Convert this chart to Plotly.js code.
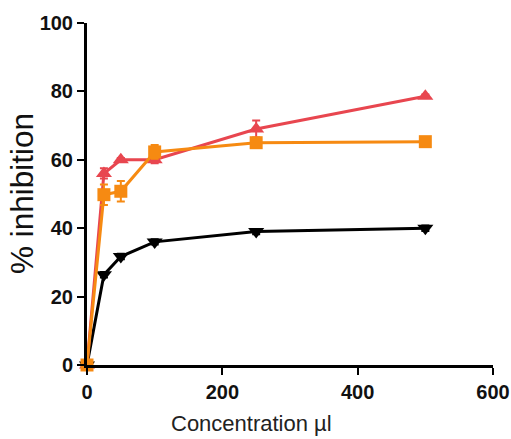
<!DOCTYPE html>
<html><head><meta charset="utf-8">
<script src="https://cdn.plot.ly/plotly-3.0.1.min.js"></script>
<style>html,body{margin:0;padding:0;background:#fff}#chart{width:511px;height:439px}</style>
</head><body><div id="chart"></div>
<script>
const conc = [0, 25, 50, 100, 250, 500];
const blackVals = [0, 26.4, 31.7, 36, 39, 40];
const blackErr = [0, 0.8, 0.8, 0.8, 0.8, 0.8];
const redVals = [0, 56, 60, 60, 69, 78.6];
const redErr = [0, 1.5, 0.5, 1, 2.5, 0.5];
const orangeVals = [0, 49.8, 50.8, 62.3, 65, 65.3];
const orangeErr = [0, 3, 3, 2, 1, 1];
const xTicks = [0, 200, 400, 600];
const yTicks = [0, 20, 40, 60, 80, 100];
const xTitle = 'Concentration µl';
const yTitle = '% inhibition';

const FONT = 'Liberation Sans Narrow, Liberation Sans, Arial, sans-serif';

const black = {x: conc, y: blackVals, mode: 'lines+markers', type: 'scatter', cliponaxis: false,
  line: {color: '#000', width: 3},
  marker: {symbol: 'triangle-down', size: 14, color: '#000'},
  error_y: {type: 'data', array: blackErr, color: '#000', thickness: 2, width: 4}};
const red = {x: conc, y: redVals, mode: 'lines+markers', type: 'scatter', cliponaxis: false,
  line: {color: '#e8464f', width: 3},
  marker: {symbol: 'triangle-up', size: 14, color: '#e8464f'},
  error_y: {type: 'data', array: redErr, color: '#e8464f', thickness: 2, width: 4}};
const orange = {x: conc, y: orangeVals, mode: 'lines+markers', type: 'scatter', cliponaxis: false,
  line: {color: '#f68a12', width: 3},
  marker: {symbol: 'square', size: 13, color: '#f68a12'},
  error_y: {type: 'data', array: orangeErr, color: '#f68a12', thickness: 2, width: 4}};

const axisCommon = {showgrid: false, zeroline: false, showline: true, linecolor: '#000', linewidth: 3,
  ticks: 'outside', ticklen: 7, tickwidth: 2, tickcolor: '#000',
  tickfont: {size: 20, family: FONT, weight: 'bold', color: '#111'}};

const layout = {
  width: 511, height: 439,
  margin: {l: 87, r: 18, t: 23, b: 74},
  paper_bgcolor: '#fff', plot_bgcolor: '#fff',
  showlegend: false,
  font: {family: FONT, color: '#000'},
  xaxis: Object.assign({range: [0, 600], tickvals: xTicks, ticktext: xTicks.map(String)}, axisCommon),
  yaxis: Object.assign({range: [0, 100], tickvals: yTicks, ticktext: yTicks.map(String)}, axisCommon),
  annotations: [
    {text: xTitle, xref: 'paper', yref: 'paper', x: 0.404, y: -0.17, xanchor: 'center', yanchor: 'middle',
      showarrow: false, font: {size: 22, family: FONT, color: '#222'}},
    {text: yTitle, xref: 'paper', yref: 'paper', x: -0.16, y: 0.5, xanchor: 'center', yanchor: 'middle',
      textangle: -90, showarrow: false, font: {size: 31.5, family: 'Liberation Sans, Arial, sans-serif', color: '#111'}}
  ]
};
Plotly.newPlot('chart', [black, red, orange], layout, {displayModeBar: false, staticPlot: true});
</script></body></html>
